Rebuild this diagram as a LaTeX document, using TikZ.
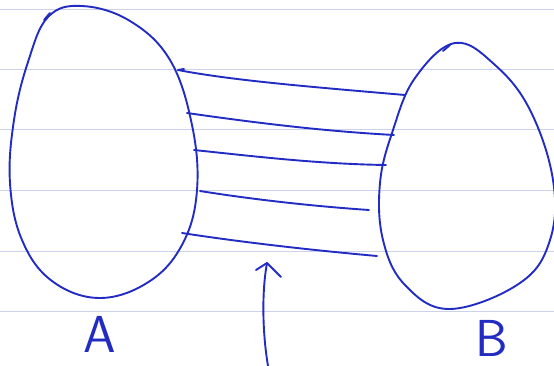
\documentclass[tikz,border=0pt]{standalone}
\usetikzlibrary{arrows.meta}
\definecolor{pen}{RGB}{34,44,195}
\definecolor{rule}{RGB}{205,210,235}
\begin{document}
\begin{tikzpicture}[x=1pt,y=-1pt,
  ink/.style={draw=pen,line width=1.9pt,line cap=round,line join=round},
  ruled/.style={draw=rule,line width=0.7pt},
  lab/.style={text=pen,font=\sffamily\fontsize{52}{56}\selectfont,inner sep=0pt}]
\useasboundingbox[fill=white] (0,0) rectangle (554,366);
% ruled paper
\foreach \y in {9,69,129,190,251,311}
  \draw[ruled] (0,\y) -- (554,\y);
% blob A
\draw[ink] plot[smooth cycle,tension=0.65] coordinates {
 (82,6) (130,21) (170,60) (192,125) (197,190) (183,243) (150,281)
 (100,298) (52,281) (22,240) (10,183) (14,120) (28,62) (48,17)};
\draw[ink] (44,20) -- (50,13);
% blob B
\draw[ink] plot[smooth cycle,tension=0.65] coordinates {
 (455,43) (495,65) (530,110) (553,180) (550,240) (520,283) (450,309)
 (405,285) (383,240) (380,183) (393,130) (415,78)};
\draw[ink] (443,51) -- (450,45);
% connectors
\coordinate (a1) at (178,70);  \coordinate (b1) at (405,95);
\coordinate (a2) at (187,113); \coordinate (b2) at (394,135);
\coordinate (a3) at (194,150); \coordinate (b3) at (386,165);
\coordinate (a4) at (200,191); \coordinate (b4) at (369,210);
\coordinate (a5) at (182,233); \coordinate (b5) at (377,256);
\draw[ink] (a1) -- ++(6,-1);
\draw[ink] (a1) .. controls (230,80) and (300,86) .. (b1);
\draw[ink] (a2) .. controls (250,122) and (320,131) .. (b2);
\draw[ink] (a3) .. controls (260,157) and (320,164) .. (b3);
\draw[ink] (a4) .. controls (250,199) and (310,206) .. (b4);
\draw[ink] (a5) .. controls (240,242) and (310,250) .. (b5);
% arrow
\coordinate (t0) at (268,366);
\coordinate (t1) at (267,263);
\draw[ink] (t0) .. controls (262,330) and (262,290) .. (t1);
\draw[ink] (256,270) -- (t1) -- (281,277);
% labels
\node[lab] (A) at (100,334) {A};
\node[lab] (B) at (492,338) {B};
\end{tikzpicture}
\end{document}
